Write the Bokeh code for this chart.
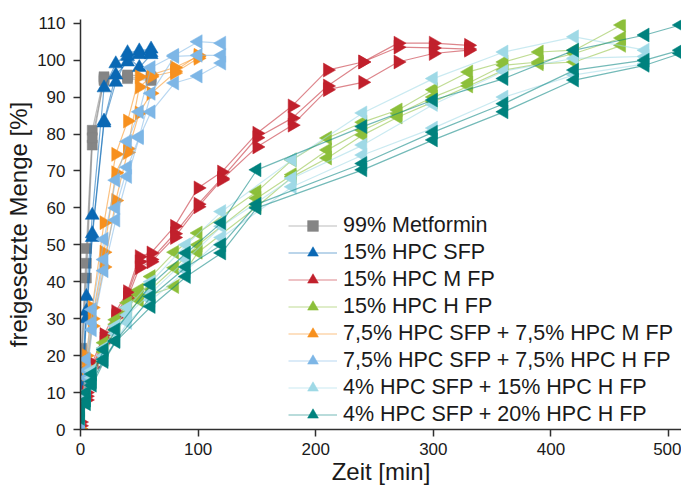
import math
from bokeh.plotting import figure
from bokeh.models import Range1d, FixedTicker, Legend, LegendItem
from bokeh.embed import file_html
from bokeh.resources import INLINE

# ---------------- data ----------------
series_names = [
    "99% Metformin",
    "15% HPC SFP",
    "15% HPC M FP",
    "15% HPC H FP",
    "7,5% HPC SFP + 7,5% HPC M FP",
    "7,5% HPC SFP + 7,5% HPC H FP",
    "4% HPC SFP + 15% HPC H FP",
    "4% HPC SFP + 20% HPC H FP",
]

x_ticks = [0, 100, 200, 300, 400, 500]
y_ticks = [0, 10, 20, 30, 40, 50, 60, 70, 80, 90, 100, 110]

# 99% Metformin
t_met = [0, 1, 5, 10, 20, 40, 60]
met_1 = [0, 22, 49, 81, 95.5, 95.5, 95]
met_2 = [0, 19, 41, 77, 95, 95, 94.5]
met_3 = [0, 20, 45, 79, 94.5, 96, 95.5]

# 15% HPC SFP
t_sfp = [0, 2, 5, 10, 20, 30, 40, 50, 60]
sfp_1 = [0, 15, 36, 58, 92.5, 99, 102, 102.5, 103]
sfp_2 = [0, 13, 32, 53, 83.5, 96, 99.5, 101.5, 102]
sfp_3 = [0, 12, 30, 52, 83, 94, 101, 98, 101.5]

# 15% HPC M FP
t_mfp = [0, 5, 10, 20, 30, 40, 50, 60, 80, 100, 120, 150, 180, 210, 240, 270, 300, 330]
mfp_1 = [2, 10, 18, 25.7, 31.9, 37.3, 46.8, 47.8, 55, 65.4, 69.7, 80.2, 87.6, 97.3, 99.5, 104.6, 104.6, 104]
mfp_2 = [1, 9, 17, 24.5, 30.8, 36.5, 45.4, 46, 53, 61, 68, 79, 84.3, 93, 99.5, 103.5, 103.3, 103]
mfp_3 = [0, 8, 16.8, 23.5, 30.3, 35.5, 43.8, 45.4, 52, 60.3, 67.6, 76.5, 82.4, 92, 94, 99.5, 101.8, 102.7]

# 15% HPC H FP
t_hfp = [0, 5, 10, 20, 30, 40, 50, 60, 80, 100, 150, 180, 210, 240, 270, 300, 330, 360, 390, 420, 460]
hfp_1 = [3, 10, 16, 23.5, 29.7, 34.3, 37.8, 41.4, 48, 53.2, 64.4, 73, 78.9, 83.2, 86.5, 92, 96.8, 99.5, 102.2, 102.7, 109.5]
hfp_2 = [2.5, 9, 15, 22, 28.5, 33, 36.5, 38, 43.8, 50, 62.6, 69, 75.7, 81, 85.5, 90, 93.8, 98.6, 99.5, 101.8, 106]
hfp_3 = [2, 8, 14, 21, 27, 31.5, 35, 36.5, 38.7, 48, 60.3, 68.4, 73.5, 79.7, 84.6, 88.7, 93, 97.3, 99, 99.5, 104]

# 7,5% HPC SFP + 7,5% HPC M FP
t_sm = [0, 5, 10, 20, 30, 40, 50, 60, 80, 100]
sm_1 = [0, 20, 33, 56, 74.5, 83.5, 95.5, 96, 98, 101]
sm_2 = [0, 17, 30, 48, 69.5, 76, 92.7, 95.5, 97, 101.3]
sm_3 = [0, 15, 28, 44, 62, 75, 85.7, 91, 96.5, 100.5]

# 7,5% HPC SFP + 7,5% HPC H FP
t_sh = [0, 5, 10, 20, 30, 40, 50, 60, 80, 100, 120]
sh_1 = [0, 19, 32.5, 51.5, 67.5, 78, 86, 98, 101.3, 105, 104.6]
sh_2 = [0, 16, 29, 46, 60, 71, 79.3, 91, 101, 101.3, 101.3]
sh_3 = [0, 14, 27, 43, 56.7, 68.5, 79, 86, 93.8, 95.7, 99.2]

# 4% HPC SFP + 15% HPC H FP
t_s15 = [0, 5, 10, 20, 30, 40, 60, 90, 120, 180, 240, 300, 360, 420, 480]
s15_1 = [5, 10, 16, 22, 28, 33, 40, 50, 59, 73, 85.7, 95, 102.2, 106.3, 102.7]
s15_2 = [4, 9, 14, 20, 26, 31, 37, 46, 55, 68, 77, 88, 97, 100.5, 101]
s15_3 = [3, 8, 13, 19, 24, 29, 35, 43, 52, 65.7, 74.3, 81.6, 90, 96, 99]

# 4% HPC SFP + 20% HPC H FP
t_s20 = [0, 5, 10, 20, 30, 60, 90, 120, 150, 240, 300, 360, 420, 480, 510]
s20_1 = [5.4, 10, 15, 21.6, 27, 39.2, 47.8, 56, 70.3, 82, 89.2, 95, 102.7, 106.8, 109.5]
s20_2 = [4, 8, 13, 19, 24, 36, 44, 50, 61, 72, 80.5, 88.2, 97.3, 100, 102.7]
s20_3 = [3, 7, 12, 18.4, 23.8, 33.3, 41.4, 47.8, 60, 70.3, 78.4, 86, 94.6, 98.6, 101.8]

series_times = [t_met, t_sfp, t_mfp, t_hfp, t_sm, t_sh, t_s15, t_s20]
series_reps = [
    [met_1, met_2, met_3],
    [sfp_1, sfp_2, sfp_3],
    [mfp_1, mfp_2, mfp_3],
    [hfp_1, hfp_2, hfp_3],
    [sm_1, sm_2, sm_3],
    [sh_1, sh_2, sh_3],
    [s15_1, s15_2, s15_3],
    [s20_1, s20_2, s20_3],
]

# ---------------- styles ----------------
colors = ["#858585", "#0a68b4", "#c1202c", "#8cbf3a", "#f7901e", "#7db6e6", "#9fd9e6", "#00827e"]
markers = ["square", "triangle", "triangle", "triangle", "triangle", "triangle", "triangle", "triangle"]
RIGHT = -math.pi / 2
LEFT = math.pi / 2
angles = [0, 0, RIGHT, LEFT, RIGHT, LEFT, LEFT, LEFT]
sizes = [10, 14, 14, 14, 14, 14, 14, 14]

FONT = "Liberation Sans"

p = figure(width=681, height=487, output_backend="svg", toolbar_location=None,
           x_range=Range1d(0, 511), y_range=Range1d(0, 111),
           min_border_left=80, min_border_right=0, min_border_top=19, min_border_bottom=57,
           x_axis_label="Zeit [min]", y_axis_label="freigesetzte Menge [%]")

p.xgrid.visible = False
p.ygrid.visible = False
p.outline_line_color = None
p.background_fill_color = "white"
p.border_fill_color = "white"

for ax in (p.xaxis[0], p.yaxis[0]):
    ax.axis_line_color = "#303030"
    ax.axis_line_width = 1.5
    ax.major_tick_line_color = "#303030"
    ax.major_tick_line_width = 1.5
    ax.major_tick_out = 7
    ax.major_tick_in = 0
    ax.minor_tick_out = 0
    ax.minor_tick_in = 0
    ax.major_label_text_font = FONT
    ax.major_label_text_font_size = "17px"
    ax.major_label_text_color = "#1a1a1a"
    ax.axis_label_text_font = FONT
    ax.axis_label_text_font_size = "24px"
    ax.axis_label_text_font_style = "normal"
    ax.axis_label_text_color = "#1a1a1a"
p.xaxis[0].ticker = FixedTicker(ticks=x_ticks)
p.yaxis[0].ticker = FixedTicker(ticks=y_ticks)
p.xaxis[0].major_label_standoff = 6
p.xaxis[0].axis_label_standoff = 0
p.yaxis[0].major_label_standoff = 8
p.yaxis[0].axis_label_standoff = 2

items = []
for i, name in enumerate(series_names):
    t = series_times[i]
    first = None
    for k, rep in enumerate(series_reps[i]):
        lr = p.line(t, rep, line_color=colors[i], line_alpha=0.55, line_width=1.2)
        sr = p.scatter(t, rep, marker=markers[i], size=sizes[i], angle=angles[i],
                       fill_color=colors[i], line_color=colors[i], line_width=0.5)
        if k == 0:
            first = [lr, sr]
    items.append(LegendItem(label=name, renderers=first))

legend = Legend(items=items, location=(208, 1), orientation="vertical",
                label_text_font=FONT, label_text_font_size="21.5px", label_text_color="#1a1a1a",
                glyph_width=49, glyph_height=27, label_height=26, label_standoff=6,
                spacing=0, padding=0, margin=0,
                border_line_alpha=0, background_fill_alpha=0)
p.add_layout(legend, "center")

open("out.html", "w").write(file_html(p, INLINE))
